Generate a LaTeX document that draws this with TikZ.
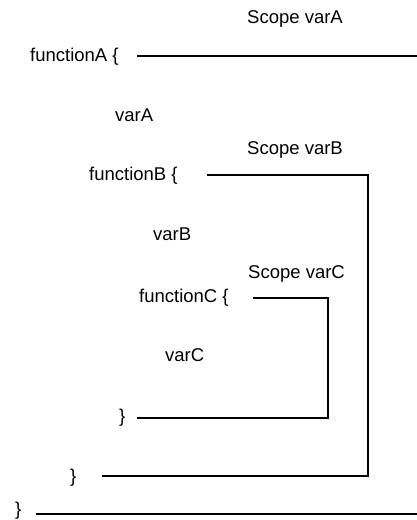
\documentclass[tikz,border=0pt]{standalone}
\usepackage{fontspec}
\setmainfont{Liberation Sans}
\begin{document}
\begin{tikzpicture}[x=1pt,y=-1pt,
  lbl/.style={inner sep=0pt, font=\fontsize{18.5}{22}\selectfont, anchor=west, text depth=0pt},
  scopeline/.style={line width=1.8pt, line join=miter}]
\useasboundingbox (0,0) rectangle (417,520);
% labels
\node[lbl] (sA) at (247,17) {Scope varA};
\node[lbl] (fA) at (30,55) {functionA \{};
\node[lbl] (vA) at (115,115) {varA};
\node[lbl] (sB) at (247,148) {Scope varB};
\node[lbl] (fB) at (89,174) {functionB \{};
\node[lbl] (vB) at (153,234) {varB};
\node[lbl] (sC) at (248,272) {Scope varC};
\node[lbl] (fC) at (139,296) {functionC \{};
\node[lbl] (vC) at (165,355) {varC};
\node[lbl] (eC) at (119,416) {\}};
\node[lbl] (eB) at (70,476) {\}};
\node[lbl] (eA) at (15,509) {\}};
% scope line points
\coordinate (aS) at (137,56);
\coordinate (aE) at (417,56);
\coordinate (bS) at (207,175);
\coordinate (bC) at (368,175);
\coordinate (bD) at (368,476);
\coordinate (bE) at (102,476);
\coordinate (cS) at (253,298);
\coordinate (cC) at (328,298);
\coordinate (cD) at (328,418);
\coordinate (cE) at (137,418);
\coordinate (dS) at (36,514);
\coordinate (dE) at (417,514);
% scope lines
\draw[scopeline] (aS) -- (aE);
\draw[scopeline] (bS) -- (bC) -- (bD) -- (bE);
\draw[scopeline] (cS) -- (cC) -- (cD) -- (cE);
\draw[scopeline] (dS) -- (dE);
\end{tikzpicture}
\end{document}
